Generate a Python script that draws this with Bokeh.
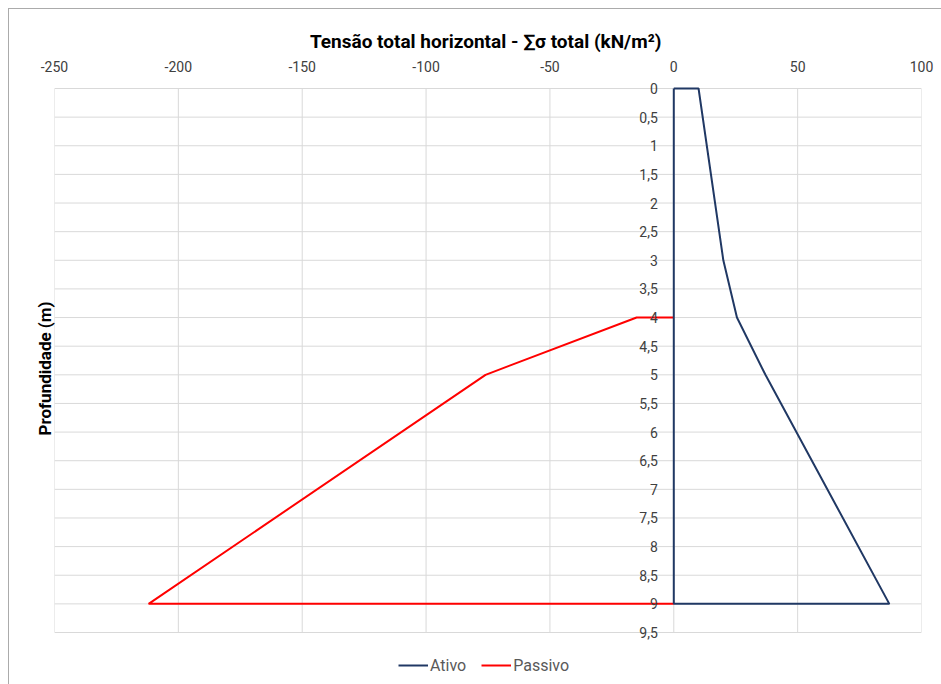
from bokeh.plotting import figure
from bokeh.models import (Range1d, LinearAxis, FixedTicker, Legend, LegendItem,
                          ColumnDataSource, LabelSet, Title)
from bokeh.core.properties import value
from bokeh.embed import file_html
from bokeh.resources import INLINE

# ---- data ----
ativo_x = [0, 10, 20, 25.5, 37, 87, 0, 0]
ativo_y = [0, 0, 3, 4, 5, 9, 9, 0]
passivo_x = [0, -15, -76, -212, 0]
passivo_y = [4, 4, 5, 9, 9]
x_ticks = [-250, -200, -150, -100, -50, 0, 50, 100]
x_labels = [str(v) for v in x_ticks]
y_ticks = [0, 0.5, 1, 1.5, 2, 2.5, 3, 3.5, 4, 4.5, 5, 5.5, 6, 6.5, 7, 7.5, 8, 8.5, 9, 9.5]
y_labels = [("%g" % v).replace(".", ",") for v in y_ticks]

FONT = "Roboto"
TXT = "#404040"

# layout: plot area 867x544 px; the drawing frame extends 10 px above and 52 px below it
AREA_H = 544
EXTRA_TOP, EXTRA_BOT = 10, 52
ymin, ymax = y_ticks[0], y_ticks[-1]
upp = (ymax - ymin) / AREA_H
y_range = Range1d(start=ymax + EXTRA_BOT * upp, end=ymin - EXTRA_TOP * upp)

p = figure(frame_width=867, frame_height=AREA_H + EXTRA_TOP + EXTRA_BOT,
           output_backend="svg", toolbar_location=None,
           x_range=Range1d(x_ticks[0], x_ticks[-1]), y_range=y_range,
           x_axis_location=None, y_axis_location=None,
           min_border_left=54, min_border_right=20, min_border_top=78, min_border_bottom=0)
p.background_fill_color = None
p.border_fill_color = None
p.outline_line_color = None
p.xgrid.grid_line_color = None
p.ygrid.grid_line_color = None
p.styles = {
    "background": "linear-gradient(#ABABAB, #ABABAB) 8px 8px / 1px 100% no-repeat, "
                  "linear-gradient(#ABABAB, #ABABAB) 8px 8px / 100% 1px no-repeat, white"
}

# top axis
xa = LinearAxis(ticker=FixedTicker(ticks=x_ticks),
                axis_label="Tensão total horizontal  - ∑σ total (kN/m²)")
xa.major_label_overrides = dict(zip(x_ticks, x_labels))
xa.axis_line_color = None
xa.major_tick_line_color = None
xa.minor_tick_line_color = None
xa.major_label_text_font = FONT
xa.major_label_text_font_size = "14px"
xa.major_label_text_color = TXT
xa.major_label_standoff = 1
xa.axis_label_text_font = FONT
xa.axis_label_text_font_size = "19px"
xa.axis_label_text_font_style = "bold"
xa.axis_label_text_color = "black"
xa.axis_label_standoff = 5
p.add_layout(xa, "above")

# left title, placed beside the plot area
yt = Title(text="Profundidade (m)", align="left", offset=249,
           text_font=FONT, text_font_size="17px", text_font_style="bold",
           text_color="black", standoff=0)
p.add_layout(yt, "left")

# grid of the plot area (from the tick arrays)
p.segment(x0=x_ticks, x1=x_ticks, y0=[ymin] * len(x_ticks), y1=[ymax] * len(x_ticks),
          line_color="#D9D9D9", line_width=1)
p.segment(x0=[x_ticks[0]] * len(y_ticks), x1=[x_ticks[-1]] * len(y_ticks), y0=y_ticks, y1=y_ticks,
          line_color="#D9D9D9", line_width=1)

# lines
rp = p.line(passivo_x, passivo_y, line_color="#FF0000", line_width=2)
ra = p.line(ativo_x, ativo_y, line_color="#203864", line_width=2)

# y tick labels drawn at x = 0
src = ColumnDataSource(dict(x=[0] * len(y_ticks), y=y_ticks, t=y_labels))
p.add_layout(LabelSet(x="x", y="y", text="t", source=src, text_align="right",
                      text_baseline="middle", x_offset=-16, text_font=value(FONT),
                      text_font_size=value("14px"), text_color=value(TXT)))

legend = Legend(items=[LegendItem(label="Ativo", renderers=[ra]),
                       LegendItem(label="Passivo", renderers=[rp])],
                orientation="horizontal", location=(344, 9))
legend.label_text_font = FONT
legend.label_text_font_size = "16px"
legend.label_text_color = "#595959"
legend.border_line_color = None
legend.background_fill_alpha = 0
legend.glyph_width = 30
legend.glyph_height = 20
legend.label_height = 20
legend.spacing = 15
legend.label_standoff = 2
legend.padding = 0
legend.margin = 0
p.add_layout(legend, "center")

open("out.html", "w").write(file_html(p, INLINE))
